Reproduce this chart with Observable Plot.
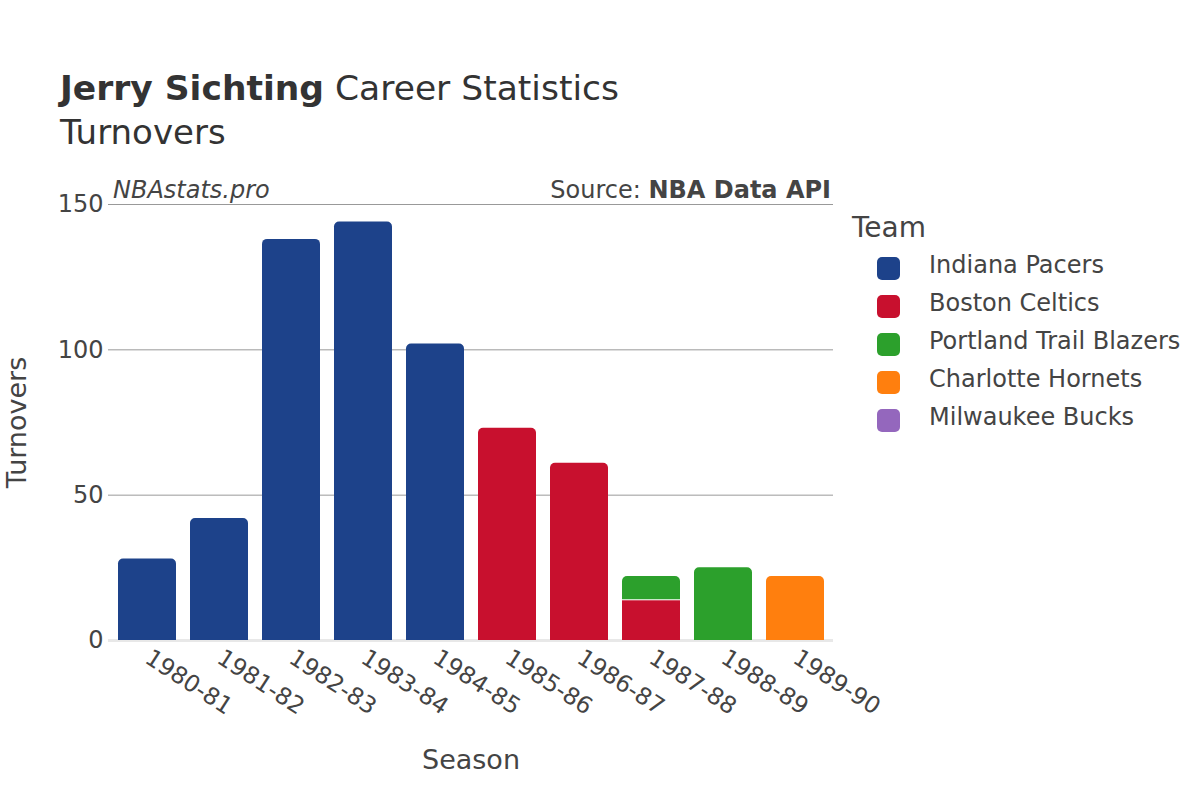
<!DOCTYPE html>
<html>
<head>
<meta charset="utf-8">
<script src="https://cdn.jsdelivr.net/npm/d3@7"></script>
<script src="https://cdn.jsdelivr.net/npm/@observablehq/plot@0.6"></script>
<style>
  html, body { margin: 0; padding: 0; background: #fff; }
  #wrap { position: relative; width: 1200px; height: 800px; font-family: "DejaVu Sans", sans-serif; color: #333; overflow: hidden; }
  .abs { position: absolute; white-space: nowrap; }
  #chart { position: absolute; left: 0; top: 0; }
</style>
</head>
<body>
<div id="wrap">
  <div id="chart"></div>
  <div class="abs" style="left:60px; top:68px; font-size:34.5px; color:#333;"><b>Jerry Sichting</b> Career Statistics</div>
  <div class="abs" style="left:60px; top:112px; font-size:34px; color:#333;">Turnovers</div>
  <div class="abs" style="left:113px; top:176px; font-size:24px; font-style:italic; color:#444;">NBAstats.pro</div>
  <div class="abs" style="right:369px; top:176px; font-size:24px; color:#444;">Source: <b>NBA Data API</b></div>
  <div id="legend" class="abs" style="left:852px; top:211px;"></div>
</div>
<script>
const seasons = ["1980-81","1981-82","1982-83","1983-84","1984-85","1985-86","1986-87","1987-88","1988-89","1989-90"];
const teams = ["Indiana Pacers","Boston Celtics","Portland Trail Blazers","Charlotte Hornets","Milwaukee Bucks"];
const teamColors = ["#1d428a","#c8102e","#2ca02c","#ff7f0e","#9467bd"];
const rowSeason = ["1980-81","1981-82","1982-83","1983-84","1984-85","1985-86","1986-87","1987-88","1987-88","1988-89","1989-90","1989-90"];
const rowTeam = ["Indiana Pacers","Indiana Pacers","Indiana Pacers","Indiana Pacers","Indiana Pacers","Boston Celtics","Boston Celtics","Boston Celtics","Portland Trail Blazers","Portland Trail Blazers","Charlotte Hornets","Milwaukee Bucks"];
const rowTurnovers = [28,42,138,144,102,73,61,14,8,25,22,0];
const yTicks = [0,50,100,150];

// build stacked table
const base = {};
const rows = rowSeason.map((s, i) => {
  const b = base[s] || 0;
  base[s] = b + rowTurnovers[i];
  return {season: s, team: rowTeam[i], value: rowTurnovers[i], y1: b, y2: b + rowTurnovers[i]};
}).filter(d => d.value > 0);
rows.forEach((d, i) => {
  d.top = !rows.some((e, j) => j > i && e.season === d.season);
});
const lower = rows.filter(d => !d.top);
const upper = rows.filter(d => d.top);

const plot = Plot.plot({
  width: 1200,
  height: 800,
  marginLeft: 108,
  marginRight: 367,
  marginTop: 204,
  marginBottom: 160,
  style: {fontFamily: "DejaVu Sans, sans-serif", color: "#444", background: "transparent"},
  x: {domain: seasons, paddingInner: 0.2, paddingOuter: 0.1, label: null},
  y: {domain: [0, 150], label: null},
  color: {domain: teams, range: teamColors},
  marks: [
    Plot.gridY(yTicks.filter(t => t > 0), {stroke: "#999", strokeOpacity: 1, strokeWidth: 1}),
    Plot.ruleY([0], {stroke: "#e8e8e8", strokeWidth: 3}),
    Plot.barY(lower, {x: "season", y1: "y1", y2: "y2", fill: "team", insetTop: 1}),
    Plot.barY(upper, {x: "season", y1: "y1", y2: "y2", fill: "team", ry1: 5}),
    Plot.axisY({ticks: yTicks, tickSize: 0, tickPadding: 5, fontSize: 24, label: null}),
    Plot.axisX({tickSize: 0, tickPadding: 15, tickRotate: 33, fontSize: 23.5, label: null}),
    Plot.text(["Turnovers"], {frameAnchor: "left", textAnchor: "middle", dx: -91, rotate: -90, fontSize: 27, fill: "#444"}),
    Plot.text(["Season"], {frameAnchor: "bottom", dy: 128, fontSize: 27, fill: "#444"})
  ]
});
document.getElementById("chart").appendChild(plot);

// legend
const leg = document.getElementById("legend");
let html = '<div style="font-size:28px;color:#444;margin-bottom:6px;">Team</div>';
teams.forEach((t, i) => {
  html += `<div style="position:relative;height:38px;">
    <span style="position:absolute;left:25px;top:7px;width:23px;height:23px;border-radius:5px;background:${teamColors[i]}"></span>
    <span style="position:absolute;left:77px;top:1px;font-size:24px;color:#444;">${t}</span></div>`;
});
leg.innerHTML = html;
</script>
</body>
</html>
